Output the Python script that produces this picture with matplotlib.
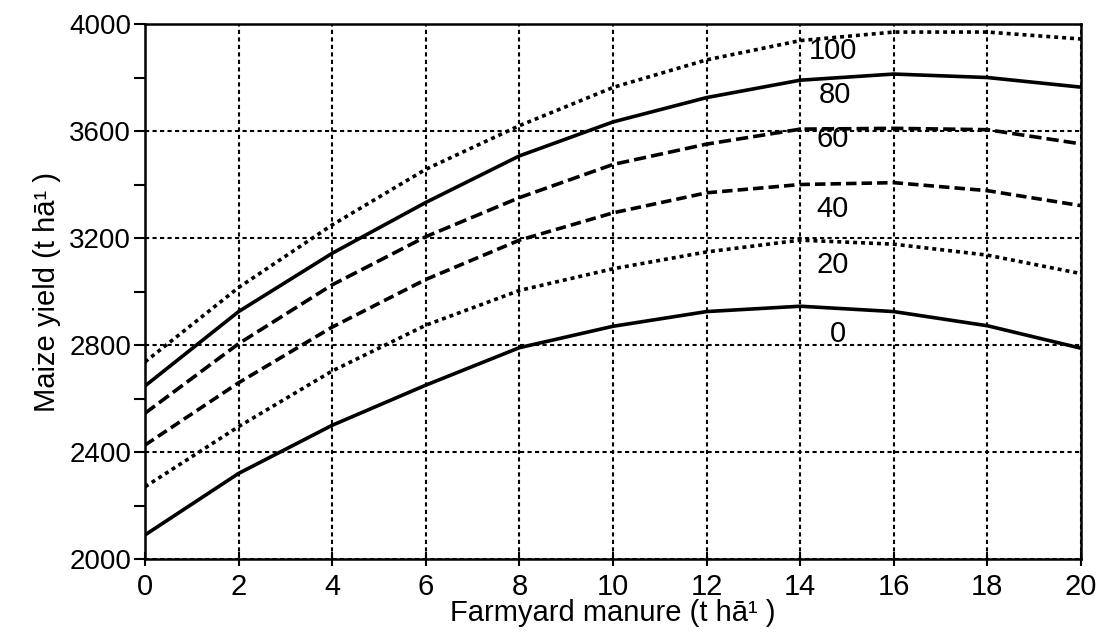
import matplotlib
matplotlib.use('Agg')
import matplotlib.pyplot as plt
from matplotlib.ticker import MultipleLocator

plt.rcParams['font.family'] = ['Liberation Sans', 'DejaVu Sans']

# farmyard manure (t/ha)
manure = [0, 2, 4, 6, 8, 10, 12, 14, 16, 18, 20]

# maize yield for each fertiliser level
yield_0 = [2090, 2320, 2500, 2650, 2790, 2870, 2925, 2945, 2925, 2872, 2788]
yield_20 = [2270, 2495, 2703, 2874, 3004, 3085, 3148, 3192, 3177, 3136, 3067]
yield_40 = [2426, 2659, 2867, 3045, 3192, 3294, 3369, 3400, 3407, 3377, 3321]
yield_60 = [2545, 2805, 3025, 3205, 3351, 3475, 3551, 3607, 3610, 3605, 3552]
yield_80 = [2647, 2925, 3143, 3333, 3507, 3634, 3725, 3790, 3813, 3800, 3764]
yield_100 = [2737, 3015, 3249, 3457, 3620, 3763, 3866, 3938, 3970, 3970, 3944]

levels = ['0', '20', '40', '60', '80', '100']
label_pos = [(14.8, 2840), (14.7, 3098), (14.7, 3309), (14.7, 3570), (14.75, 3733), (14.7, 3898)]

fig = plt.figure(figsize=(11.03, 6.39), dpi=100)
ax = fig.add_axes([0.1315, 0.1252, 0.8485, 0.8372])

lw = 2.6
series = [yield_0, yield_20, yield_40, yield_60, yield_80, yield_100]
styles = [None, (1.1, 1.1), (2.9, 1.4), (3.4, 1.4), None, (1.1, 1.1)]
for ys, dash in zip(series, styles):
    if dash is None:
        ax.plot(manure, ys, color='black', lw=lw, solid_capstyle='butt')
    else:
        ax.plot(manure, ys, color='black', lw=lw, dashes=dash, dash_capstyle='butt')

for lab, (xp, yp) in zip(levels, label_pos):
    ax.text(xp, yp, lab, fontsize=21, ha='center', va='center')

ax.set_xlim(0, 20)
ax.set_ylim(2000, 4000)
ax.xaxis.set_major_locator(MultipleLocator(2))
ax.yaxis.set_major_locator(MultipleLocator(400))
ax.yaxis.set_minor_locator(MultipleLocator(200))

ax.grid(True, which='major', color='black', lw=1.5, linestyle=(0, (2.0, 1.6)))

for s in ax.spines.values():
    s.set_linewidth(1.8)

ax.tick_params(axis='x', direction='inout', length=10, width=1.5, labelsize=21, pad=5)
ax.tick_params(axis='y', which='major', direction='out', length=8, width=1.5, labelsize=20, pad=2)
ax.tick_params(axis='y', which='minor', direction='out', length=8, width=1.5)

ax.set_xlabel('Farmyard manure (t hā¹ )', fontsize=21, labelpad=-1)
ax.set_ylabel('Maize yield (t hā¹ )', fontsize=21, labelpad=6)

fig.savefig('out.png', dpi=100)
